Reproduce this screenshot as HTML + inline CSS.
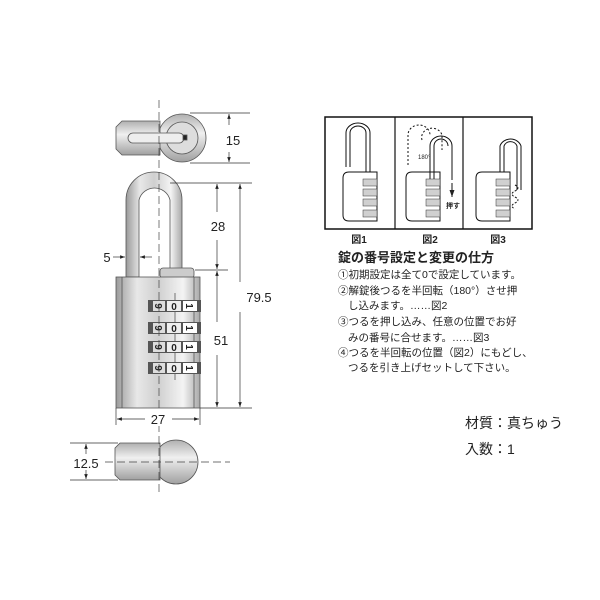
<!DOCTYPE html>
<html><head><meta charset="utf-8"><style>
body{margin:0;background:#fff;}
svg{display:block;font-family:"Liberation Sans","Noto Sans CJK JP",sans-serif;}
</style></head><body>
<svg width="600" height="600" viewBox="0 0 600 600" xmlns="http://www.w3.org/2000/svg">
<defs>
<linearGradient id="m" x1="0" x2="1" y1="0" y2="0">
<stop offset="0" stop-color="#9a9a9a"/><stop offset="0.25" stop-color="#e8e8e8"/><stop offset="0.5" stop-color="#cfcfcf"/><stop offset="0.8" stop-color="#f4f4f4"/><stop offset="1" stop-color="#a8a8a8"/>
</linearGradient>
<linearGradient id="mv" x1="0" x2="0" y1="0" y2="1">
<stop offset="0" stop-color="#b0b0b0"/><stop offset="0.4" stop-color="#f0f0f0"/><stop offset="1" stop-color="#a0a0a0"/>
</linearGradient>
<marker id="a" markerWidth="8" markerHeight="8" refX="7" refY="4" orient="auto"><path d="M0,1.5 L7,4 L0,6.5z" fill="#222"/></marker>
</defs>
<g stroke="#555" stroke-width="0.8">
<circle cx="182" cy="138" r="24" fill="url(#mv)"/>
<path d="M122,121 L160,121 L160,155 L122,155 L116,149 L116,127z" fill="url(#mv)"/>
<circle cx="182" cy="138" r="16" fill="#ddd"/>
<rect x="128" y="133" width="56" height="10" rx="5" fill="#eee"/>
<rect x="183" y="135" width="4" height="5" fill="#222"/>
<path d="M126,277 L126,200 A28,28 0 0 1 182,200 L182,270 L170,270 L170,200 A16,16 0 0 0 139,200 L139,277z" fill="url(#m)"/>
<rect x="160" y="268" width="34" height="10" rx="3" fill="#ccc"/>
<rect x="116" y="277" width="84" height="131" fill="url(#m)"/>
<line x1="122" y1="277" x2="122" y2="408"/><line x1="194" y1="277" x2="194" y2="408"/>
<line x1="175" y1="293" x2="175" y2="380"/>
<circle cx="176" cy="462" r="22" fill="url(#mv)"/>
<path d="M120,443 L160,443 L160,480 L120,480 L115,475 L115,448z" fill="url(#mv)"/>
</g>
<g font-size="10" font-weight="bold" text-anchor="middle" fill="#222">
<g><rect x="148" y="300" width="53" height="12" fill="#555"/><rect x="153" y="301" width="12" height="10" fill="#ddd"/><rect x="167" y="301" width="14" height="10" fill="#eee"/><rect x="183" y="301" width="14" height="10" fill="#fff"/><text x="159" y="310" transform="rotate(90 159 306)">9</text><text x="174" y="310">0</text><text x="190" y="310" transform="rotate(90 190 306)">1</text></g>
<g><rect x="148" y="322" width="53" height="12" fill="#555"/><rect x="153" y="323" width="12" height="10" fill="#ddd"/><rect x="167" y="323" width="14" height="10" fill="#eee"/><rect x="183" y="323" width="14" height="10" fill="#fff"/><text x="159" y="332" transform="rotate(90 159 328)">9</text><text x="174" y="332">0</text><text x="190" y="332" transform="rotate(90 190 328)">1</text></g>
<g><rect x="148" y="341" width="53" height="12" fill="#555"/><rect x="153" y="342" width="12" height="10" fill="#ddd"/><rect x="167" y="342" width="14" height="10" fill="#eee"/><rect x="183" y="342" width="14" height="10" fill="#fff"/><text x="159" y="351" transform="rotate(90 159 347)">9</text><text x="174" y="351">0</text><text x="190" y="351" transform="rotate(90 190 347)">1</text></g>
<g><rect x="148" y="362" width="53" height="12" fill="#555"/><rect x="153" y="363" width="12" height="10" fill="#ddd"/><rect x="167" y="363" width="14" height="10" fill="#eee"/><rect x="183" y="363" width="14" height="10" fill="#fff"/><text x="159" y="372" transform="rotate(90 159 368)">9</text><text x="174" y="372">0</text><text x="190" y="372" transform="rotate(90 190 368)">1</text></g>
</g>
<line x1="159" y1="100" x2="159" y2="495" stroke="#444" stroke-width="0.7" stroke-dasharray="8,4"/>
<line x1="105" y1="462" x2="230" y2="462" stroke="#444" stroke-width="0.7" stroke-dasharray="8,4"/>
<g stroke="#333" stroke-width="0.7" fill="none">
<line x1="190" y1="113" x2="250" y2="113"/><line x1="190" y1="163" x2="250" y2="163"/>
<line x1="229" y1="125" x2="229" y2="114" marker-end="url(#a)"/><line x1="229" y1="152" x2="229" y2="162" marker-end="url(#a)"/>
<line x1="170" y1="183" x2="252" y2="183"/><line x1="195" y1="270" x2="228" y2="270"/><line x1="200" y1="408" x2="252" y2="408"/>
<line x1="217" y1="212" x2="217" y2="184" marker-end="url(#a)"/><line x1="217" y1="240" x2="217" y2="269" marker-end="url(#a)"/>
<line x1="217" y1="322" x2="217" y2="271" marker-end="url(#a)"/><line x1="217" y1="355" x2="217" y2="407" marker-end="url(#a)"/>
<line x1="240" y1="282" x2="240" y2="184" marker-end="url(#a)"/><line x1="240" y1="312" x2="240" y2="407" marker-end="url(#a)"/>
<line x1="116" y1="408" x2="116" y2="425"/><line x1="200" y1="408" x2="200" y2="425"/>
<line x1="145" y1="419" x2="117" y2="419" marker-end="url(#a)"/><line x1="172" y1="419" x2="199" y2="419" marker-end="url(#a)"/>
<line x1="113" y1="257" x2="125" y2="257" marker-end="url(#a)"/><line x1="152" y1="257" x2="140" y2="257" marker-end="url(#a)"/>
<line x1="70" y1="443" x2="118" y2="443"/><line x1="70" y1="480" x2="118" y2="480"/>
<line x1="86" y1="454" x2="86" y2="444" marker-end="url(#a)"/><line x1="86" y1="470" x2="86" y2="479" marker-end="url(#a)"/>
</g>
<g font-size="13" fill="#222" text-anchor="middle">
<text x="233" y="145">15</text><text x="218" y="231">28</text><text x="221" y="345">51</text>
<text x="259" y="302">79.5</text><rect x="146" y="412" width="24" height="14" fill="#fff"/><text x="158" y="424">27</text><text x="107" y="262">5</text><text x="86" y="468">12.5</text>
</g>
<g stroke="#111" fill="none">
<rect x="325" y="117" width="207" height="112" stroke-width="1.5"/>
<line x1="395" y1="117" x2="395" y2="229" stroke-width="1.2"/><line x1="463" y1="117" x2="463" y2="229" stroke-width="1.2"/>
<g stroke-width="1">
<path d="M346,167 L346,133 A12,10 0 0 1 370,133 L370,172 M350,167 L350,133 A8,7 0 0 1 366,133 L366,172"/>
<path d="M349,172 L377,172 L377,221 L349,221 Q343,221 343,215 L343,178 Q343,172 349,172z"/>
<path d="M430,180 L430,146 A11,10 0 0 1 452,146 L452,180 M434,180 L434,146 A7,7 0 0 1 448,146"/>
<path d="M412,172 L440,172 L440,221 L412,221 Q406,221 406,215 L406,178 Q406,172 412,172z"/>
<path d="M408,165 L408,135 A11,10 0 0 1 430,135 M422,140 A10,9 0 0 1 442,135 L442,150" stroke-dasharray="2,2"/>
<path d="M452,183 L452,197" marker-end="url(#a)"/>
<path d="M500,172 L500,146 A11,10 0 0 1 521,146 L521,190 M504,172 L504,146 A7,7 0 0 1 517,146 L517,190"/>
<path d="M482,172 L510,172 L510,221 L482,221 Q476,221 476,215 L476,178 Q476,172 482,172z"/>
<path d="M515,185 q6,3 0,6 q-6,3 0,6 q6,3 0,6 q-6,3 0,6" stroke-dasharray="2,1.5"/>
</g>
</g>
<g fill="#d0d0d0" stroke="#333" stroke-width="0.5">
<rect x="363" y="179" width="14" height="7"/><rect x="363" y="189" width="14" height="7"/><rect x="363" y="199" width="14" height="7"/><rect x="363" y="210" width="14" height="7"/>
<rect x="426" y="179" width="14" height="7"/><rect x="426" y="189" width="14" height="7"/><rect x="426" y="199" width="14" height="7"/><rect x="426" y="210" width="14" height="7"/>
<rect x="496" y="179" width="14" height="7"/><rect x="496" y="189" width="14" height="7"/><rect x="496" y="199" width="14" height="7"/><rect x="496" y="210" width="14" height="7"/>
</g>
<g fill="#222">
<text x="418" y="159" font-size="6">180°</text>
<text x="446" y="208" font-size="7" font-weight="bold">押す</text>
<g font-size="10" text-anchor="middle" font-weight="bold"><text x="359" y="243">図1</text><text x="430" y="243">図2</text><text x="498" y="243">図3</text></g>
<text x="338" y="262" font-size="13" font-weight="bold">錠の番号設定と変更の仕方</text>
<g font-size="10.5">
<text x="338" y="278">①初期設定は全て0で設定しています。</text>
<text x="338" y="294">②解錠後つるを半回転（180°）させ押</text>
<text x="348" y="309">し込みます。……図2</text>
<text x="338" y="325">③つるを押し込み、任意の位置でお好</text>
<text x="348" y="341">みの番号に合せます。……図3</text>
<text x="338" y="356">④つるを半回転の位置（図2）にもどし、</text>
<text x="348" y="371">つるを引き上げセットして下さい。</text>
</g>
<g font-size="14"><text x="465" y="428">材質：真ちゅう</text><text x="465" y="454">入数：1</text></g>
</g>
</svg>
</body></html>
